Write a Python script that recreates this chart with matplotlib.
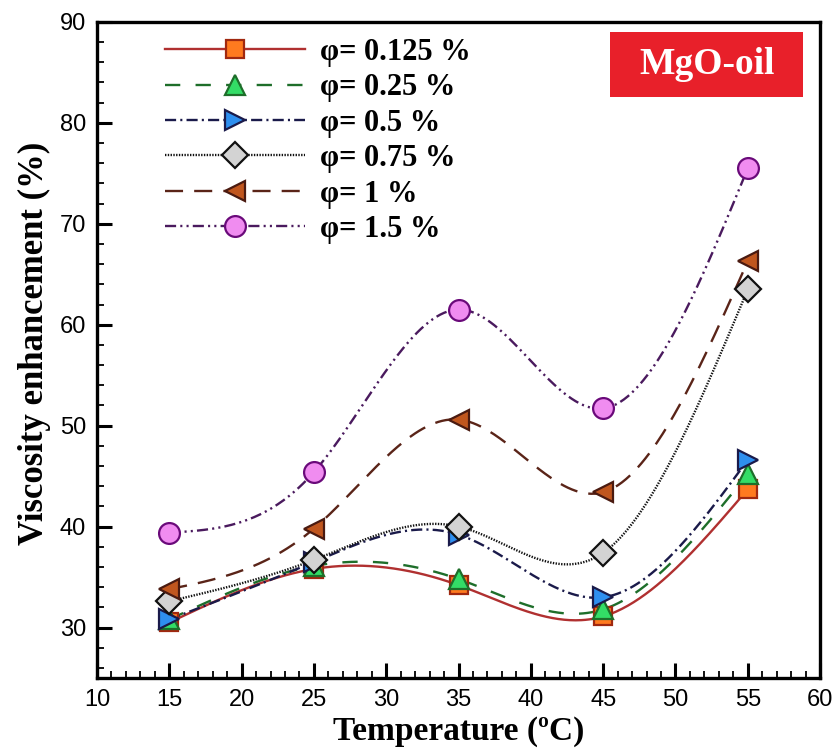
import numpy as np
import matplotlib
matplotlib.use("Agg")
import matplotlib.pyplot as plt
from matplotlib.ticker import MultipleLocator
from matplotlib.patches import Rectangle

plt.rcParams['lines.scale_dashes'] = False

temperature = [15, 25, 35, 45, 55]
phi_labels = ["φ= 0.125 %", "φ= 0.25 %", "φ= 0.5 %", "φ= 0.75 %", "φ= 1 %", "φ= 1.5 %"]
v_0125 = [30.5, 35.8, 34.2, 31.1, 43.7]
v_025 = [30.8, 36.1, 34.8, 31.8, 45.2]
v_05 = [30.8, 36.5, 39.2, 33.0, 46.6]
v_075 = [32.6, 36.7, 40.0, 37.4, 63.5]
v_1 = [33.8, 39.8, 50.6, 43.4, 66.3]
v_15 = [39.4, 45.4, 61.5, 51.7, 75.5]

series = [v_0125, v_025, v_05, v_075, v_1, v_15]
styles = [
    dict(color="#B03030", ls="-", marker="s", mfc="#FF7A1F", mec="#A02810"),
    dict(color="#1E6E2A", ls=(0, (11, 11)), marker="^", mfc="#33DD66", mec="#1E6E2A"),
    dict(color="#1A1A4A", ls=(0, (8, 3, 1.5, 3)), marker=">", mfc="#2E8FEF", mec="#1A1A4A"),
    dict(color="#111111", ls=(0, (1, 1)), marker="D", mfc="#D3D3D3", mec="#111111"),
    dict(color="#5A2418", ls=(0, (13, 8)), marker="<", mfc="#C0561E", mec="#4A1A10"),
    dict(color="#4A1A5E", ls=(0, (8, 3, 1.5, 3, 1.5, 3)), marker="o", mfc="#F08CF0", mec="#6A0A7A"),
]
msizes = [13, 15, 15, 13, 15, 15]


def natural_spline(x, y, xs):
    x = np.asarray(x, float); y = np.asarray(y, float)
    n = len(x)
    h = np.diff(x)
    A = np.zeros((n, n)); b = np.zeros(n)
    A[0, 0] = 1; A[-1, -1] = 1
    for i in range(1, n - 1):
        A[i, i - 1] = h[i - 1]
        A[i, i] = 2 * (h[i - 1] + h[i])
        A[i, i + 1] = h[i]
        b[i] = 3 * ((y[i + 1] - y[i]) / h[i] - (y[i] - y[i - 1]) / h[i - 1])
    c = np.linalg.solve(A, b)
    out = np.empty_like(xs)
    for k, xv in enumerate(xs):
        i = min(max(np.searchsorted(x, xv) - 1, 0), n - 2)
        dx = xv - x[i]
        bi = (y[i + 1] - y[i]) / h[i] - h[i] * (2 * c[i] + c[i + 1]) / 3
        di = (c[i + 1] - c[i]) / (3 * h[i])
        out[k] = y[i] + bi * dx + c[i] * dx ** 2 + di * dx ** 3
    return out


fig = plt.figure(figsize=(8.36, 7.55), dpi=100)
ax = fig.add_axes([0.116, 0.102, 0.865, 0.869])

xs = np.linspace(temperature[0], temperature[-1], 300)
handles = []
for vals, st, ms, lab in zip(series, styles, msizes, phi_labels):
    ys = natural_spline(temperature, vals, xs)
    ax.plot(xs, ys, color=st["color"], ls=st["ls"], lw=1.7, zorder=2)
    ax.plot(temperature, vals, ls="none", marker=st["marker"], ms=ms,
            mfc=st["mfc"], mec=st["mec"], mew=1.6, zorder=3)
    h, = ax.plot([], [], color=st["color"], ls=st["ls"], lw=1.7, marker=st["marker"],
                 ms=ms, mfc=st["mfc"], mec=st["mec"], mew=1.6, label=lab)
    handles.append(h)

ax.set_xlim(10, 60)
ax.set_ylim(25, 90)
ax.xaxis.set_major_locator(MultipleLocator(5))
ax.xaxis.set_minor_locator(MultipleLocator(1))
ax.yaxis.set_major_locator(MultipleLocator(10))
ax.yaxis.set_minor_locator(MultipleLocator(2))
ax.tick_params(which="both", direction="in", top=False, right=False,
               labelsize=17, pad=8)
ax.tick_params(which="major", length=11, width=2.2)
ax.tick_params(which="minor", length=5, width=1.3)
for lab in ax.get_xticklabels() + ax.get_yticklabels():
    lab.set_fontfamily("Liberation Sans")
for sp in ax.spines.values():
    sp.set_linewidth(2.4)

ax.set_xlabel("Temperature (ºC)", fontsize=24, fontweight="bold",
              family="Liberation Serif")
ax.set_ylabel("Viscosity enhancement (%)", fontsize=25, fontweight="bold",
              family="Liberation Serif")
ax.xaxis.set_label_coords(0.5, -0.058)
ax.yaxis.set_label_coords(-0.064, 0.51)

leg = ax.legend(handles=handles, loc="upper left", bbox_to_anchor=(0.085, 0.985),
                frameon=False, handlelength=4.6, handletextpad=0.5,
                labelspacing=0.21, borderpad=0.2, borderaxespad=0.0,
                prop=dict(family="Liberation Serif", weight="bold", size=22))

ax.add_patch(Rectangle((0.7095, 0.8857), 0.267, 0.099, transform=ax.transAxes,
                       fc="#E8202A", ec="none", zorder=4))
ax.text(0.843, 0.935, "MgO-oil", transform=ax.transAxes, ha="center", va="center",
        fontsize=27, fontweight="bold", family="Liberation Serif", color="white",
        zorder=5)

fig.savefig("out.png", dpi=100)
